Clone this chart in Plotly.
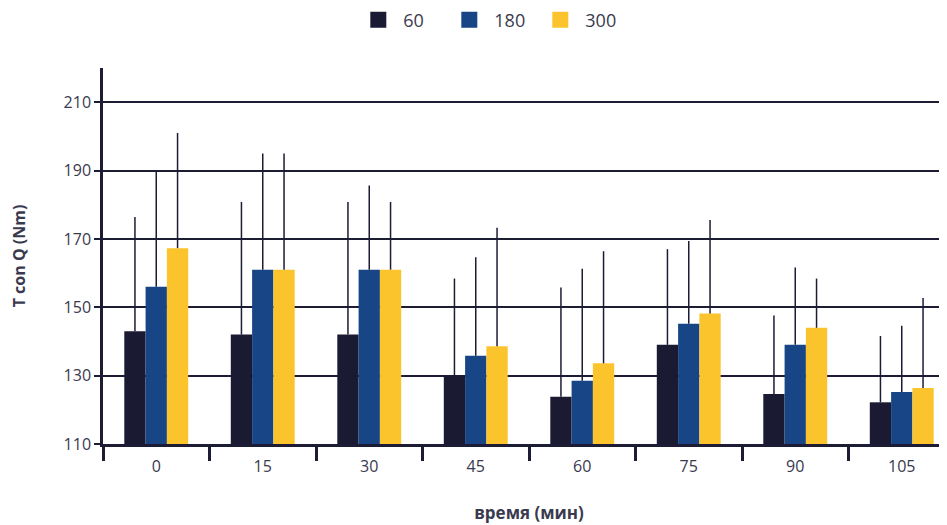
import plotly.graph_objects as go

categories = ["0", "15", "30", "45", "60", "75", "90", "105"]
series_names = ["60", "180", "300"]

mean_60 = [143, 142, 142, 130, 123.8, 139, 124.6, 122.2]
mean_180 = [156, 161, 161, 135.8, 128.5, 145.2, 139, 125.2]
mean_300 = [167.3, 161, 161, 138.6, 133.6, 148.2, 144, 126.4]

err_60 = [33.4, 38.8, 38.8, 28.4, 32, 28, 23, 19.4]
err_180 = [33.7, 34, 24.6, 28.8, 32.8, 24.2, 22.6, 19.4]
err_300 = [33.7, 34, 19.8, 34.7, 32.8, 27.3, 14.4, 26.3]

y_ticks = [110, 130, 150, 170, 190, 210]

colors = ["#1b1a33", "#174585", "#fcc42c"]
ink = "#1c1c35"
text_col = "#3a3a4e"
font_family = "Open Sans"

means = [mean_60, mean_180, mean_300]
errs = [err_60, err_180, err_300]

fig = go.Figure()
for name, m, e, c in zip(series_names, means, errs, colors):
    fig.add_trace(go.Bar(
        x=categories, y=[v - y_ticks[0] for v in m], base=y_ticks[0],
        name=name, marker=dict(color=c, line=dict(width=0)),
        error_y=dict(type="data", symmetric=False, array=e,
                     arrayminus=[0] * len(e), width=0, thickness=1.5, color=ink),
        showlegend=False,
    ))
for name, c in zip(series_names, colors):
    fig.add_trace(go.Scatter(
        x=[None], y=[None], mode="markers", name=name,
        marker=dict(symbol="square", size=22, color=c),
    ))

fig.update_layout(
    width=947, height=525,
    margin=dict(l=95, r=0, t=60, b=89),
    paper_bgcolor="white", plot_bgcolor="white",
    barmode="group", bargap=0.4, bargroupgap=0,
    font=dict(family=font_family, size=16, color=text_col),
    legend=dict(orientation="h", x=0.454, xanchor="center",
                yref="container", y=0.977, yanchor="middle",
                font=dict(size=18, color=text_col),
                itemwidth=40, entrywidth=36, entrywidthmode="pixels",
                tracegroupgap=0),
    xaxis=dict(
        type="category", range=[-0.5, 7.5], automargin=False,
        showline=True, linecolor=ink, linewidth=2.5,
        ticks="outside", tickson="boundaries", ticklen=14, tickwidth=2.5,
        tickcolor=ink, showgrid=False, ticklabelstandoff=6,
        tickfont=dict(size=16, color=text_col),
        title=dict(text="<b>время (мин)</b>", font=dict(size=17, color=text_col),
                   standoff=32),
    ),
    yaxis=dict(
        range=[110, 220], tickvals=y_ticks, automargin=False,
        showline=True, linecolor=ink, linewidth=2.5,
        ticks="outside", ticklen=6, tickwidth=2, tickcolor=ink,
        showgrid=True, gridcolor=ink, gridwidth=2, zeroline=False,
        tickfont=dict(size=16, color=text_col),
        title=dict(text="<b>T con Q (Nm)</b>", font=dict(size=16, color=text_col),
                   standoff=36),
    ),
)

fig.add_shape(type="line", xref="paper", yref="y", x0=1, x1=1,
              y0=y_ticks[0], y1=y_ticks[-1], line=dict(color=ink, width=2.5))

fig.write_html("out.html")
